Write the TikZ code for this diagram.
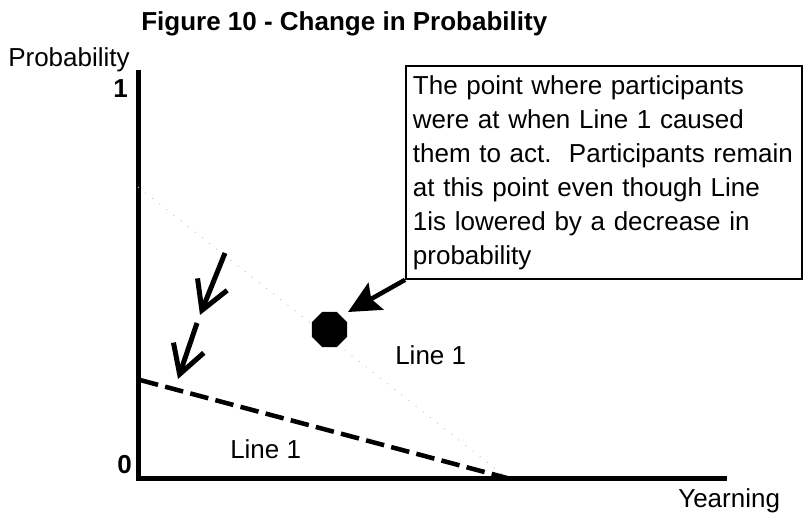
\documentclass[tikz,border=0pt]{standalone}
\usepackage{fontspec}
\setmainfont{Liberation Sans}
\usetikzlibrary{arrows.meta,shapes.geometric}
\begin{document}
\begin{tikzpicture}[x=0.75pt,y=-0.75pt,
  txt/.style={font=\fontsize{19.5}{25.5}\selectfont, inner sep=0pt},
  btxt/.style={font=\fontsize{19.5}{25.5}\selectfont\bfseries, inner sep=0pt},
  axisline/.style={line width=3.75pt, line join=miter},
  faintline/.style={draw=black!25, line width=0.6pt, dash pattern=on 0.8pt off 6pt},
  dashline/.style={line width=3.4pt, dash pattern=on 14pt off 5.5pt},
  barbarrow/.style={line width=3.75pt, -{Straight Barb[length=21pt,width=24pt,line width=3.75pt]}},
  bigarrow/.style={line width=3.4pt, -{Stealth[length=24pt,width=23pt,inset=4pt]}},
  callout/.style={draw, line width=1.4pt, txt, align=left, inner xsep=5.25pt, inner ysep=0pt,
    text width=286.5pt, minimum width=297pt, minimum height=159.75pt, anchor=north west},
  dotshape/.style={regular polygon, regular polygon sides=8, fill=black, draw=none,
    minimum size=28.5pt, inner sep=0pt}]
\useasboundingbox (0,0) rectangle (806,516);

% title and axis labels
\node[btxt, anchor=base west] (title) at (141,30.5) {Figure 10 - Change in Probability};
\node[txt, anchor=base west] (ylabel) at (8,67) {Probability};
\node[btxt, anchor=base east] (yone) at (128,98) {1};
\node[btxt, anchor=base east] (yzero) at (132,473) {0};
\node[txt, anchor=base west] (xlabel) at (678,507) {Yearning};

% axes
\coordinate (ytop) at (138,70);
\coordinate (orig) at (138,478.5);
\coordinate (xend) at (727,478.5);
\draw[axisline] (ytop) -- (orig) -- (xend);

% faint original Line 1
\coordinate (fstart) at (138,187);
\coordinate (fend) at (507,478);
\draw[faintline] (fstart) -- (fend);

% lowered Line 1 (dashed)
\coordinate (dstart) at (140,380);
\coordinate (dend) at (507,478);
\draw[dashline] (dstart) -- (dend);

% line labels
\node[txt, anchor=base west] (lineup) at (395,364) {Line 1};
\node[txt, anchor=base west] (linelow) at (230,458) {Line 1};

% downward arrows
\coordinate (a1s) at (225,253);
\coordinate (a1e) at (200,315);
\coordinate (a2s) at (197,323);
\coordinate (a2e) at (178,379);
\draw[barbarrow] (a1s) -- (a1e);
\draw[barbarrow] (a2s) -- (a2e);

% participant point
\node[dotshape] (dot) at (329.5,329.5) {};

% callout box
\node[callout] (box) at (405,65) {The point where participants\\
were at when Line 1 caused\\
them to act.\ \ Participants remain\\
at this point even though Line\\
1is lowered by a decrease in\\
probability};

\coordinate (tip) at (348,312);
\draw[bigarrow] (box.south west) -- (tip);
\end{tikzpicture}
\end{document}
